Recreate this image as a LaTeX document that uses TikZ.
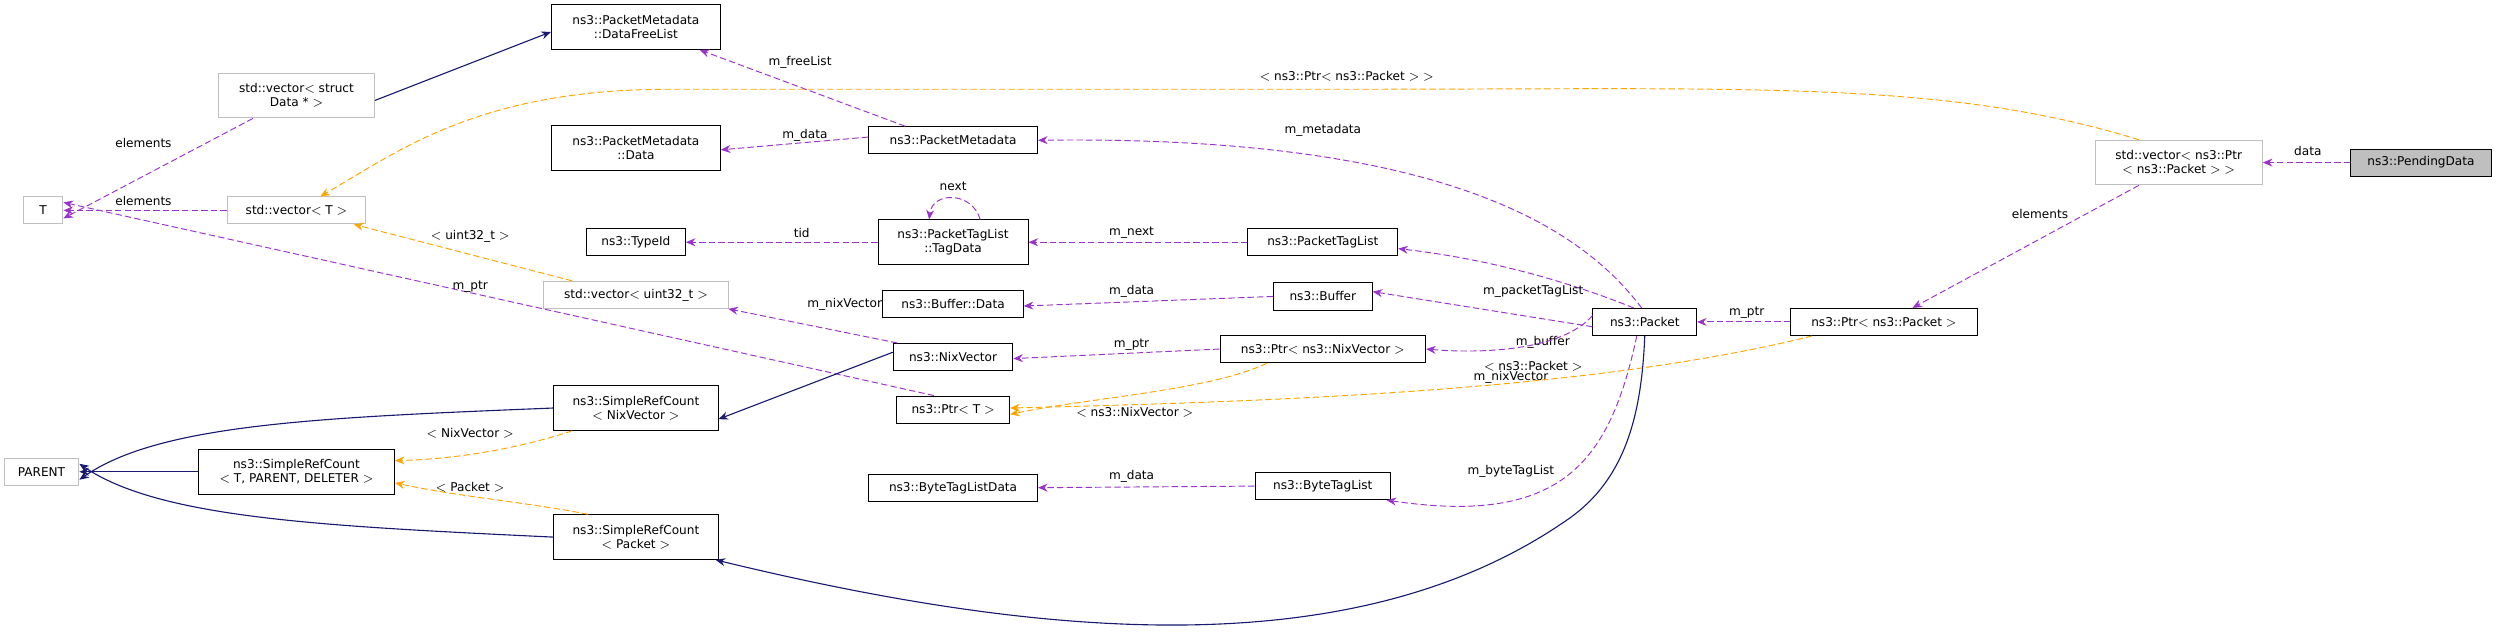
\documentclass[tikz,border=0pt]{standalone}
\usepackage{fontspec}
\setmainfont{DejaVu Sans}
\usetikzlibrary{arrows.meta}
\definecolor{pur}{HTML}{9A32CD}
\definecolor{nav}{HTML}{191970}
\definecolor{org}{HTML}{FFA500}
\definecolor{gbd}{HTML}{BFBFBF}
\begin{document}
\begin{tikzpicture}[x=1pt,y=-1pt,
 font=\fontsize{7.6}{8.6}\selectfont,
 box/.style={draw=black,line width=0.6pt,inner sep=1pt,align=center,minimum height=17pt},
 box2/.style={box,minimum height=28pt},
 gbox/.style={box,draw=gbd},
 gbox2/.style={box2,draw=gbd},
 tip/.style={-{Stealth[length=6pt,width=5pt]}},
 pe/.style={tip,draw=pur,dashed,line width=0.6pt,dash pattern=on 4pt off 2pt},
 oe/.style={tip,draw=org,dashed,line width=0.6pt,dash pattern=on 4pt off 2pt},
 ne/.style={tip,draw=nav,line width=0.7pt},
 lb/.style={inner sep=0pt}]
\useasboundingbox (0,0) rectangle (1568,396.6);
\node[box,fill=gbd,minimum width=88pt] (pd) at (1519,102) {ns3::PendingData};
\node[gbox2,minimum width=105pt] (vpp) at (1367,102) {std::vector$<$ ns3::Ptr\\$<$ ns3::Packet $>$ $>$};
\node[box,minimum width=117pt] (ppk) at (1182,202) {ns3::Ptr$<$ ns3::Packet $>$};
\node[box,minimum width=65pt] (pk) at (1032,202) {ns3::Packet};
\node[box2,minimum width=106pt] (dfl) at (399,17) {ns3::PacketMetadata\\::DataFreeList};
\node[gbox2,minimum width=98pt] (vsd) at (186,60) {std::vector$<$ struct\\Data * $>$};
\node[gbox,minimum width=25pt] (T) at (27,132) {T};
\node[gbox,minimum width=87pt] (vT) at (186,132) {std::vector$<$ T $>$};
\node[box2,minimum width=106pt] (pmd) at (399,93) {ns3::PacketMetadata\\::Data};
\node[box,minimum width=106pt] (pm) at (598,88) {ns3::PacketMetadata};
\node[box,minimum width=62pt] (tid) at (399,152) {ns3::TypeId};
\node[box2,minimum width=94pt] (td) at (598,152) {ns3::PacketTagList\\::TagData};
\node[box,minimum width=94pt] (ptl) at (830,152) {ns3::PacketTagList};
\node[gbox,minimum width=116pt] (vu) at (399,185) {std::vector$<$ uint32\_t $>$};
\node[box,minimum width=88pt] (bd) at (598,191) {ns3::Buffer::Data};
\node[box,minimum width=62pt] (buf) at (830,186) {ns3::Buffer};
\node[box,minimum width=75pt] (nv) at (598,224) {ns3::NixVector};
\node[box,minimum width=129pt] (pnv) at (830,219) {ns3::Ptr$<$ ns3::NixVector $>$};
\node[box2,minimum width=103pt] (srn) at (399,256) {ns3::SimpleRefCount\\$<$ NixVector $>$};
\node[box,minimum width=71pt] (pT) at (598,257) {ns3::Ptr$<$ T $>$};
\node[gbox,minimum width=47pt] (par) at (26,296) {PARENT};
\node[box2,minimum width=123pt] (srt) at (186,296) {ns3::SimpleRefCount\\$<$ T, PARENT, DELETER $>$};
\node[box,minimum width=106pt] (btd) at (598,306) {ns3::ByteTagListData};
\node[box,minimum width=85pt] (btl) at (830,305) {ns3::ByteTagList};
\node[box2,minimum width=103pt] (srp) at (399,337) {ns3::SimpleRefCount\\$<$ Packet $>$};

% purple members
\draw[pe] (pd.west) -- (vpp.east);
\node[lb] at (1448,95) {data};
\draw[pe] ([xshift=-25pt]vpp.south) -- ([xshift=18pt]ppk.north);
\node[lb] at (1280,134) {elements};
\draw[pe] (ppk.west) -- (pk.east);
\node[lb] at (1096,196) {m\_ptr};
\draw[pe] ([xshift=-2pt]pk.north) .. controls (990,140) and (900,85) .. (pm.east);
\node[lb] at (830,82) {m\_metadata};
\draw[pe] ([xshift=-7pt]pk.north) .. controls (980,175) and (930,162) .. ([yshift=-4pt]ptl.east);
\node[lb] at (962,183) {m\_packetTagList};
\draw[pe] ([yshift=-3pt]pk.west) -- ([yshift=3pt]buf.east);
\node[lb] at (968,215) {m\_buffer};
\draw[pe] ([yshift=4pt]pk.west) .. controls (980,220) and (930,222) .. (pnv.east);
\node[lb] at (948,237) {m\_nixVector};
\draw[pe] ([xshift=-5pt]pk.south) .. controls (1010,290) and (980,330) .. ([xshift=40pt]btl.south);
\node[lb] at (948,296) {m\_byteTagList};
\draw[pe] ([xshift=-30pt]pm.north) -- ([xshift=40pt]dfl.south);
\node[lb] at (502,39) {m\_freeList};
\draw[pe] ([yshift=2pt]pm.west) -- ([yshift=-1pt]pmd.east);
\node[lb] at (505,85) {m\_data};
\draw[pe] (vsd.south west) ++(22pt,0) -- ([yshift=-5pt]T.east);
\node[lb] at (90,90) {elements};
\draw[pe] (vT.west) -- (T.east);
\node[lb] at (90,126) {elements};
\draw[pe] (td.west) -- (tid.east);
\node[lb] at (503,146) {tid};
\draw[pe] ([xshift=17pt]td.north) .. controls (610,120) and (585,120) .. ([xshift=-15pt]td.north);
\node[lb] at (598,117) {next};
\draw[pe] (ptl.west) -- (td.east);
\node[lb] at (710,146) {m\_next};
\draw[pe] (buf.west) -- ([yshift=-1pt]bd.east);
\node[lb] at (710,183) {m\_data};
\draw[pe] ([xshift=-35pt,yshift=0pt]nv.north) -- ([xshift=58pt]vu.south);
\node[lb] at (530,191) {m\_nixVector};
\draw[pe] (pnv.west) -- ([yshift=-1pt]nv.east);
\node[lb] at (710,216) {m\_ptr};
\draw[pe] ([xshift=-12pt]pT.north) -- ([yshift=5pt]T.east);
\node[lb] at (295,180) {m\_ptr};
\draw[pe] (btl.west) -- (btd.east);
\node[lb] at (710,299) {m\_data};

% orange templates
\draw[oe] ([xshift=-25pt]vpp.north) .. controls (1220,50) and (1100,56) .. (845,56) -- (420,56) .. controls (300,56) and (250,95) .. ([xshift=15pt]vT.north);
\node[lb,fill=white,inner sep=1pt] at (845,48) {$<$ ns3::Ptr$<$ ns3::Packet $>$ $>$};
\draw[oe] ([xshift=-45pt]ppk.south) .. controls (1000,245) and (800,252) .. ([yshift=1pt]pT.east);
\node[lb] at (962,230) {$<$ ns3::Packet $>$};
\draw[oe] ([xshift=-35pt]pnv.south) .. controls (760,245) and (680,250) .. ([yshift=-3pt]pT.east);
\node[lb] at (712,259) {$<$ ns3::NixVector $>$};
\draw[oe] ([xshift=-40pt]vu.north) -- ([xshift=36pt]vT.south);
\node[lb] at (295,148) {$<$ uint32\_t $>$};
\draw[oe] ([xshift=-40pt]srn.south) .. controls (330,280) and (290,288) .. ([yshift=7pt]srt.east);
\node[lb] at (295,272) {$<$ NixVector $>$};
\draw[oe] ([xshift=-30pt]srp.north) .. controls (330,315) and (290,312) .. ([yshift=-7pt]srt.east);
\node[lb] at (295,306) {$<$ Packet $>$};

% navy inheritance
\draw[ne] ([yshift=-3pt]vsd.east) -- ([yshift=-3pt]dfl.west);
\draw[ne] ([yshift=3pt]nv.west) -- ([yshift=-7pt]srn.east);
\draw[ne] (srn.west) .. controls (200,262) and (100,266) .. ([yshift=-5pt]par.east);
\draw[ne] (srt.west) -- (par.east);
\draw[ne] (srp.west) .. controls (200,330) and (100,325) .. ([yshift=5pt]par.east);
\draw[ne] (pk.south) .. controls (1030,260) and (1020,300) .. (985,325) .. controls (850,420) and (650,400) .. ([xshift=50pt]srp.south);
\end{tikzpicture}
\end{document}
